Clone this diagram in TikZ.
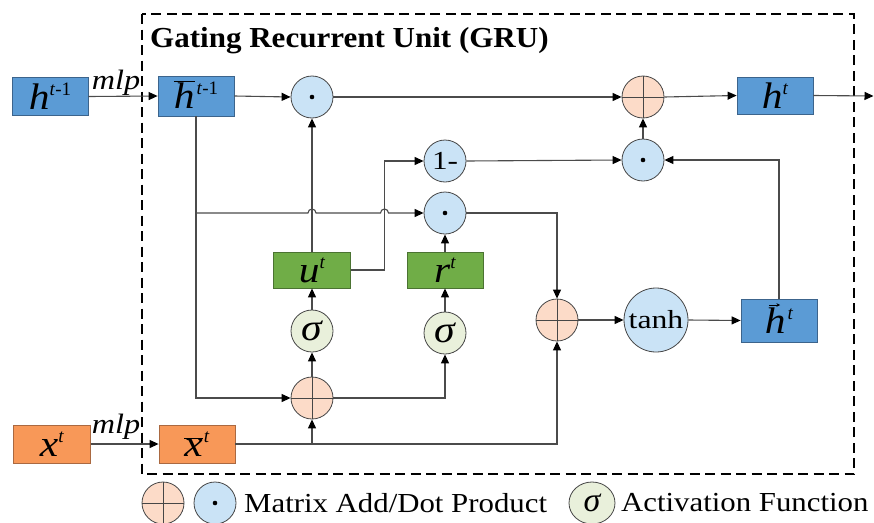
\documentclass[tikz,border=0pt]{standalone}
\usepackage{fontspec}
\setmainfont{Liberation Serif}
\usepackage{graphicx}
\usetikzlibrary{arrows.meta,calc,shapes.geometric}
\definecolor{blueF}{RGB}{91,155,213}
\definecolor{blueD}{RGB}{60,100,140}
\definecolor{greenF}{RGB}{112,173,71}
\definecolor{greenD}{RGB}{75,115,50}
\definecolor{orangeF}{RGB}{248,152,88}
\definecolor{orangeD}{RGB}{170,105,65}
\definecolor{dotF}{RGB}{202,227,246}
\definecolor{plusF}{RGB}{252,219,200}
\definecolor{sigF}{RGB}{233,240,219}
\definecolor{circD}{RGB}{70,70,70}
\definecolor{linec}{RGB}{75,75,75}
\newcommand\sups[1]{\raisebox{14pt}{\fontsize{19}{19}\selectfont #1}}
\newcommand\hsx{\scalebox{1.15}[1]}
\newcommand\bx[1]{\scalebox{1.12}[1]{\textit{#1}}}
\begin{document}
\begin{tikzpicture}[x=1pt,y=-1pt,
  conn/.style={draw=linec, line width=1.1pt},
  arr/.style={conn, -{Triangle[length=9pt,width=8pt,color=black]}},
  boxbase/.style={rectangle, minimum width=76pt, minimum height=38pt, inner sep=0pt,
    line width=0.8pt, text height=25pt, text depth=0pt, font=\fontsize{37}{37}\selectfont},
  bluebox/.style={boxbase, draw=blueD, fill=blueF},
  greenbox/.style={boxbase, draw=greenD, fill=greenF},
  orangebox/.style={boxbase, draw=orangeD, fill=orangeF},
  opc/.style={circle, minimum size=42pt, inner sep=0pt, line width=0.8pt, draw=circD},
  dotc/.style={opc, fill=dotF, path picture={\fill[black] (path picture bounding box.center) circle (2.3pt);}},
  plusc/.style={opc, fill=plusF, path picture={\draw[circD, line width=0.8pt]
      (path picture bounding box.north) -- (path picture bounding box.south)
      (path picture bounding box.west) -- (path picture bounding box.east);}},
  sigc/.style={opc, fill=sigF, font=\fontsize{38}{38}\selectfont\itshape},
  mlpl/.style={anchor=base, inner sep=0pt, font=\fontsize{28}{28}\selectfont\itshape},
  legt/.style={anchor=west, inner sep=0pt, font=\fontsize{27.5}{27.5}\selectfont}
]
\useasboundingbox (0,0) rectangle (874,522);

% frame and title
\draw[black, line width=1.3pt, dash pattern=on 10pt off 5.5pt] (142,14) rectangle (854,474);
\node[anchor=base west, inner sep=0pt, font=\fontsize{29}{29}\selectfont\bfseries] (title) at (150,47) {\scalebox{1.07}[1]{Gating Recurrent Unit (GRU)}};

% boxes
\node[bluebox] (hprev) at (50,96.5) {\bx{h}\sups{\textit{t}-1}};
\node[bluebox, minimum height=40pt] (hbar) at (196,96) {\(\overline{\hbox{\bx{h}}}\)\kern2pt\sups{\textit{t}-1}};
\node[bluebox, minimum height=37pt] (ht) at (775,95.5) {\bx{h}\sups{\textit{t}}};
\node[bluebox, minimum height=43pt] (hvec) at (779,320.5) {\bx{h}\kern2pt\sups{\textit{t}}};
\draw[black, line width=0.7pt, -{Stealth[length=3.5pt,width=3.5pt]}]
  ($(hvec.center)+(-10pt,15.5pt)$) -- ++(11pt,0);
\node[greenbox, minimum height=36pt, minimum width=77pt] (ut) at (312,270) {\bx{u}\sups{\textit{t}}};
\node[greenbox, minimum height=36pt] (rt) at (445,270) {\bx{r}\sups{\textit{t}}};
\node[orangebox, minimum width=77pt] (xt) at (52,444) {\bx{x}\sups{\textit{t}}};
\node[orangebox] (xbar) at (197,444) {\(\overline{\hbox{\bx{x}}}\)\kern1pt\sups{\textit{t}}};

% operator circles
\node[dotc] (dotA) at (312,97) {};
\node[plusc] (plusT) at (643,97) {};
\node[opc, fill=dotF, font=\fontsize{26}{26}\selectfont] (onem) at (445,161) {\scalebox{1.2}[1]{1-}};
\node[dotc] (dotB) at (643,160) {};
\node[dotc] (dotC) at (445,213) {};
\node[sigc] (sig1) at (312,331) {\scalebox{1.1}[1]{σ}};
\node[sigc] (sig2) at (445,333) {\scalebox{1.1}[1]{σ}};
\node[plusc] (plusB) at (312,398) {};
\node[plusc] (plusM) at (557,320) {};
\node[opc, fill=dotF, minimum size=64pt, font=\fontsize{26}{26}\selectfont] (tanh) at (656,320) {\scalebox{1.22}[1]{tanh}};

\coordinate (out) at (873.5,96);
\coordinate (ubend) at (384.5,270);

% connectors
\draw[arr] (hprev.east) -- (hbar.west);
\node[mlpl] (mlp1) at (116,89) {\hsx{mlp}};
\draw[arr] (xt.east) -- (xbar.west);
\node[mlpl] (mlp2) at (116,433) {\hsx{mlp}};
\draw[arr] (hbar.east) -- (dotA.west);
\draw[arr] (dotA.east) -- (plusT.west);
\draw[arr] (plusT.east) -- (ht.west);
\draw[arr] (ht.east) -- (out);
\draw[arr] (dotB.north) -- (plusT.south);
\draw[arr] (onem.east) -- (dotB.west);
\draw[arr] (hvec.north) |- (dotB.east);
\draw[arr] (hbar.south) |- (plusB.west);
\draw[arr] (hbar.south |- dotC.west)
  -- ($(ut.north |- dotC.west)+(-4pt,0)$) arc[start angle=180, end angle=0, radius=4pt]
  -- ($(ubend |- dotC.west)+(-4pt,0)$) arc[start angle=180, end angle=0, radius=4pt]
  -- (dotC.west);
\draw[arr] (ut.north) -- (dotA.south);
\draw[arr] (ut.east) -- (ubend) |- (onem.west);
\draw[arr] (rt.north) -- (dotC.south);
\draw[arr] (sig1.north) -- (ut.south);
\draw[arr] (sig2.north) -- (rt.south);
\draw[arr] (plusB.north) -- (sig1.south);
\draw[arr] (plusB.east) -| (sig2.south);
\draw[arr] (xbar.east) -| (plusM.south);
\draw[arr] (plusB.south |- xbar.east) -- (plusB.south);
\draw[arr] (dotC.east) -| (plusM.north);
\draw[arr] (plusM.east) -- (tanh.west);
\draw[arr] (tanh.east) -- (hvec.west);

% legend
\node[plusc] (plusL) at (163,503) {};
\node[dotc] (dotL) at (215,503) {};
\node[legt] (legA) at (244,503) {\scalebox{1.12}[1]{Matrix Add/Dot Product}};
\node[ellipse, draw=circD, fill=sigF, line width=0.8pt, minimum width=46pt, minimum height=42pt, inner sep=0pt, font=\fontsize{34}{34}\selectfont\itshape] (sigL) at (592,503) {σ};
\node[legt] (legB) at (621,503) {\scalebox{1.12}[1]{Activation Function}};
\end{tikzpicture}
\end{document}
